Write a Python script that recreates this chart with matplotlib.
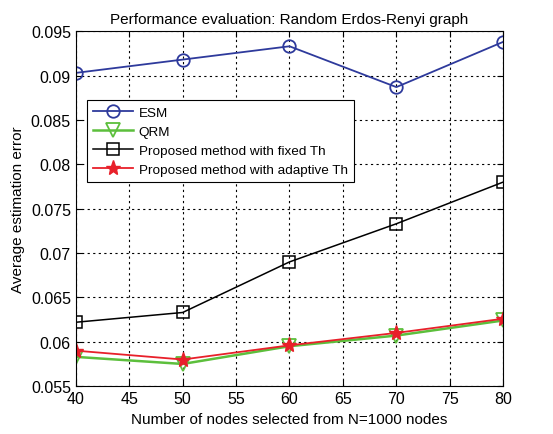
import matplotlib
matplotlib.use("Agg")
import matplotlib.pyplot as plt

plt.rcParams["font.family"] = ["Liberation Sans", "DejaVu Sans"]

# %% data
nodes = [40, 50, 60, 70, 80]
esm = [0.0903, 0.0918, 0.0933, 0.0887, 0.0938]
qrm = [0.0583, 0.0575, 0.0595, 0.0607, 0.0624]
fixedTh = [0.0622, 0.0633, 0.0690, 0.0733, 0.0780]
adaptiveTh = [0.0590, 0.0580, 0.0596, 0.0610, 0.0626]

xticks = [40, 45, 50, 55, 60, 65, 70, 75, 80]
yticks = [0.055, 0.06, 0.065, 0.07, 0.075, 0.08, 0.085, 0.09, 0.095]
ylabels = ["0.055", "0.06", "0.065", "0.07", "0.075", "0.08", "0.085", "0.09", "0.095"]

# %% plot
fig = plt.figure(figsize=(5.53, 4.35), dpi=100)
ax = fig.add_axes([0.137, 0.110, 0.773, 0.816])

ax.plot(nodes, esm, color="#2e3a9c", lw=1.3, marker="o", ms=9, mfc="none",
        mew=1.3, label="ESM")
ax.plot(nodes, qrm, color="#5cbf3c", lw=1.8, marker="v", ms=10, mfc="none",
        mew=1.3, label="QRM")
ax.plot(nodes, fixedTh, color="black", lw=1.1, marker="s", ms=9, mfc="none",
        mew=1.1, label="Proposed method with fixed Th")
ax.plot(nodes, adaptiveTh, color="#e8202a", lw=1.3, marker="*", ms=11,
        mew=1.0, label="Proposed method with adaptive Th")

ax.set_xlim(40, 80)
ax.set_ylim(0.055, 0.095)
ax.set_xticks(xticks)
ax.set_yticks(yticks)
ax.set_yticklabels(ylabels)
ax.tick_params(direction="in", top=True, right=True, labelsize=11.5, length=4)
ax.grid(True, color="black", linestyle=(0, (2, 3)), lw=0.8)

ax.set_title("Performance evaluation: Random Erdos-Renyi graph", fontsize=11)
ax.set_xlabel("Number of nodes selected from N=1000 nodes", fontsize=11)
ax.set_ylabel("Average estimation error", fontsize=11)

leg = ax.legend(loc="upper left", bbox_to_anchor=(0.01, 0.825), fontsize=9.7,
                fancybox=False, framealpha=1, edgecolor="black",
                handlelength=3.0, borderpad=0.45, labelspacing=0.5,
                handletextpad=0.4)
leg.get_frame().set_linewidth(0.8)

plt.savefig("out.png", dpi=100)
